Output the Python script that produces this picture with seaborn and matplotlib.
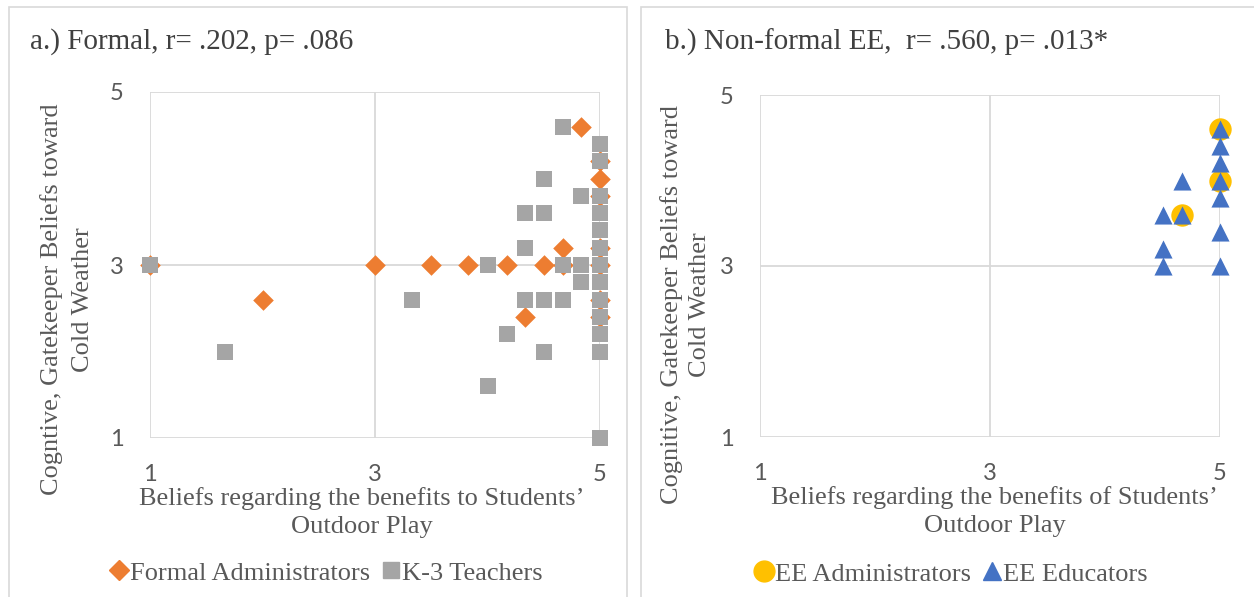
import matplotlib
matplotlib.use("Agg")
import matplotlib.pyplot as plt
import seaborn as sns
import pandas as pd
from matplotlib.lines import Line2D
from matplotlib.patches import Rectangle

# panel a: formal
formal_admin_x = [1, 2, 3, 3.5, 3.83, 4.17, 4.5, 4.67, 4.67, 4.83, 4.33, 5, 5, 5, 5, 5, 5, 5]
formal_admin_y = [3, 2.6, 3, 3, 3, 3, 3, 3.2, 3.0, 4.6, 2.4, 4.2, 4.0, 3.8, 3.2, 3.0, 2.6, 2.4]
teachers_x = [1, 1.67, 3.33, 4, 4, 4.17, 4.33, 4.33, 4.33, 4.5, 4.5, 4.5, 4.5, 4.67, 4.67, 4.67,
              4.83, 4.83, 4.83, 5, 5, 5, 5, 5, 5, 5, 5, 5, 5, 5, 5, 5]
teachers_y = [3, 2.0, 2.6, 3, 1.6, 2.2, 3.6, 3.2, 2.6, 4.0, 3.6, 2.6, 2.0, 4.6, 3.0, 2.6,
              3.8, 3.0, 2.8, 4.4, 4.2, 3.8, 3.6, 3.4, 3.2, 3.0, 2.8, 2.6, 2.4, 2.2, 2.0, 1.0]

# panel b: non-formal EE
ee_admin_x = [5, 5, 4.67]
ee_admin_y = [4.6, 4.0, 3.6]
ee_edu_x = [4.5, 4.5, 4.5, 4.67, 4.67, 5, 5, 5, 5, 5, 5, 5]
ee_edu_y = [3.6, 3.2, 3.0, 4.0, 3.6, 4.6, 4.4, 4.2, 4.0, 3.8, 3.4, 3.0]

ticks = [1, 3, 5]

sns.set_style("white")
plt.rcParams['font.family'] = ['Liberation Serif', 'DejaVu Serif']
txt = "#595959"
grid_c = "#D9D9D9"

fig = plt.figure(figsize=(12.54, 5.97), dpi=100)
W, H = 1254, 597

# panel borders
fig.patches.append(Rectangle((9 / W, -0.01), 618 / W, 1 - 7 / H + 0.01, transform=fig.transFigure,
                             fill=False, edgecolor=grid_c, linewidth=1.2))
fig.patches.append(Rectangle((641 / W, -0.01), 620 / W, 1 - 7 / H + 0.01, transform=fig.transFigure,
                             fill=False, edgecolor=grid_c, linewidth=1.2))


def style_axes(ax):
    ax.set_xlim(1, 5)
    ax.set_ylim(1, 5)
    ax.set_xticks(ticks)
    ax.set_yticks(ticks)
    ax.grid(True, color=grid_c, linewidth=1.3)
    for s in ax.spines.values():
        s.set_visible(False)
    ax.tick_params(length=0, labelsize=17, colors=txt)
    ax.tick_params(axis="x", pad=19)
    ax.tick_params(axis="y", pad=19)
    for lab in ax.get_xticklabels() + ax.get_yticklabels():
        lab.set_fontfamily('Lato')
    ax.set_axisbelow(True)


ax1 = fig.add_axes([150 / W, 1 - 438 / H, 450 / W, 346 / H])
ax2 = fig.add_axes([760 / W, 1 - 437 / H, 460 / W, 342 / H])

df_a1 = pd.DataFrame({"x": formal_admin_x, "y": formal_admin_y})
df_a2 = pd.DataFrame({"x": teachers_x, "y": teachers_y})
df_b1 = pd.DataFrame({"x": ee_admin_x, "y": ee_admin_y})
df_b2 = pd.DataFrame({"x": ee_edu_x, "y": ee_edu_y})

orange, gray, yellow, blue = "#ED7D31", "#A5A5A5", "#FFC000", "#4472C4"

sns.scatterplot(data=df_a1, x="x", y="y", ax=ax1, marker="D", color=orange, s=110,
                linewidth=0, clip_on=False, zorder=3)
sns.scatterplot(data=df_a2, x="x", y="y", ax=ax1, marker="s", color=gray, s=120,
                linewidth=0, clip_on=False, zorder=4)
sns.scatterplot(data=df_b1, x="x", y="y", ax=ax2, marker="o", color=yellow, s=260,
                linewidth=0, clip_on=False, zorder=3)
sns.scatterplot(data=df_b2, x="x", y="y", ax=ax2, marker="^", color=blue, s=170,
                linewidth=0, clip_on=False, zorder=4)

for ax in (ax1, ax2):
    style_axes(ax)

ax1.set_ylabel("Cogntive, Gatekeeper Beliefs toward\nCold Weather", fontsize=19, color=txt,
               linespacing=1.5)
ax1.yaxis.set_label_coords(-0.125, 0.40)
ax1.set_xlabel("Beliefs regarding the benefits to Students\u2019\nOutdoor Play", fontsize=19,
               color=txt, linespacing=1.32)
ax1.xaxis.set_label_coords(0.47, -0.142)

ax2.set_ylabel("Cognitive, Gatekeeper Beliefs toward\nCold Weather", fontsize=19, color=txt,
               linespacing=1.38)
ax2.yaxis.set_label_coords(-0.106, 0.386)
ax2.set_xlabel("Beliefs regarding the benefits of Students\u2019\nOutdoor Play", fontsize=19,
               color=txt, linespacing=1.32)
ax2.xaxis.set_label_coords(0.51, -0.144)

fig.text(30 / W, 1 - 42 / H, "a.) Formal, r= .202, p= .086", fontsize=21, color="#404040", va="center")
fig.text(665 / W, 1 - 42 / H, "b.) Non-formal EE,  r= .560, p= .013*", fontsize=21, color="#404040",
         va="center")

h1 = [Line2D([], [], marker="D", color=orange, linestyle="", markersize=10),
      Line2D([], [], marker="s", color=gray, linestyle="", markersize=11)]
ax1.legend(h1, ["Formal Administrators", "K-3 Teachers"], loc="center", bbox_to_anchor=(0.39, -0.39),
           ncol=2, frameon=False, fontsize=19, handletextpad=0.0, columnspacing=0.4,
           handlelength=0.8, labelcolor=txt)
h2 = [Line2D([], [], marker="o", color=yellow, linestyle="", markersize=15),
      Line2D([], [], marker="^", color=blue, linestyle="", markersize=13)]
ax2.legend(h2, ["EE Administrators", "EE Educators"], loc="center", bbox_to_anchor=(0.414, -0.40),
           ncol=2, frameon=False, fontsize=19, handletextpad=0.0, columnspacing=0.4,
           handlelength=0.8, labelcolor=txt)

fig.savefig("out.png", dpi=100)
